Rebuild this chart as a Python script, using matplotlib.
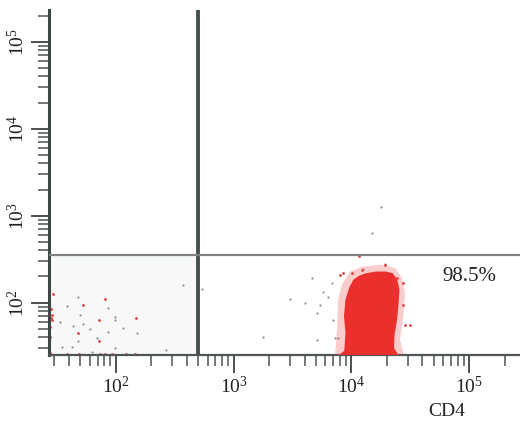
import numpy as np
import matplotlib
matplotlib.use('Agg')
import matplotlib.pyplot as plt
from matplotlib.ticker import LogLocator, LogFormatterMathtext, NullFormatter

plt.rcParams['font.family'] = ['Liberation Serif', 'DejaVu Serif']
plt.rcParams['mathtext.fontset'] = 'custom'
plt.rcParams['mathtext.rm'] = 'Liberation Serif'

# axis ranges and gates (fluorescence units)
x_range = [27, 270000]
y_range = [25, 233000]
gate_x = 500
gate_y = 350
quadrant_label = '98.5%'

# outline of the dense CD4+ population (solid core)
cluster_x = [7600, 8700, 8900, 8650, 8900, 9600, 10400, 11600, 13300, 16200,
             19600, 22400, 24400, 25600, 25100, 24400, 23200, 23000, 25500]
cluster_y = [24, 28, 45, 70, 108, 150, 184, 204, 218, 228,
             228, 218, 186, 141, 95, 64, 42, 30, 24]

# outline of the sparser halo round the core
halo_x = [7260, 7550, 7700, 8320, 9730, 12300, 17500, 23400, 26900, 28500,
          27400, 25900, 28000]
halo_y = [24, 49, 108, 161, 227, 259, 273, 252, 194, 124,
          63.8, 37.6, 24]

# single red events
red_x = [29.1, 80.7, 52.5, 28.6, 28.6, 71.7, 148, 47.6, 71.7, 27.5, 38.3, 48.5,
         73.2, 80.7, 92.5, 122, 145, 27.5, 27.5, 28, 28,
         8000, 8490, 10100, 12300, 19300, 24400, 27400, 28500, 31450, 27400, 11600]
red_y = [127, 111, 95, 72.8, 63.8, 63.8, 67.3, 45.2, 36.6, 26.6, 26, 26,
         26, 26, 26, 26, 26, 53, 40.6, 85, 67,
         210, 221, 221, 240, 273, 194, 170, 55.9, 55.9, 95, 347]

# single gray events
gray_x = [371, 538, 47.6, 38.3, 85.5, 49.5, 33.4, 98.1, 98.1, 43.1, 52.5, 115,
          60.1, 85.5, 151, 69, 47.6, 34.7, 42.3, 98.1, 266, 62.5,
          17840, 14970, 19300, 12550, 1770, 3010, 4030, 4630, 5100, 5410, 5740,
          6330, 6840, 6980, 7260, 5100, 7700]
gray_y = [158, 145, 117, 92.4, 87.7, 72.8, 60.5, 69.1, 63.8, 54.5, 57.4, 51.6,
          50.3, 46.4, 45.2, 39.6, 36.6, 31.2, 31.2, 30.4, 28.8, 27.4,
          1268, 638, 281, 246, 40.6, 111, 100, 194, 76.8, 95, 134,
          117, 170, 63.8, 39.6, 37.6, 39.6]

fig = plt.figure(figsize=(5.2, 4.26), dpi=100)
ax = fig.add_axes([0.094, 0.1667, 0.906, 0.81])
ax.set_xscale('log')
ax.set_yscale('log')
ax.set_xlim(x_range)
ax.set_ylim(y_range)

# shaded lower-left quadrant
ax.fill([x_range[0], gate_x, gate_x, x_range[0]],
        [y_range[0], y_range[0], gate_y, gate_y], color='#f7f9f9', zorder=0)

ax.scatter(gray_x, gray_y, s=2.5, color='#8c8c8c', linewidths=0, zorder=2)
ax.scatter(red_x, red_y, s=4, color='#e23a36', linewidths=0, zorder=2)
ax.fill(halo_x, halo_y, color='#ee5a57', alpha=0.3, lw=0, zorder=3)
ax.fill(cluster_x, cluster_y, color='#ea2f2d', lw=0, zorder=3)

ax.axvline(gate_x, color='#485050', lw=2.8, zorder=4)
ax.axhline(gate_y, color='#7d8383', lw=1.6, zorder=4)

ax.text(1e5, 200, quadrant_label, ha='center', va='center', fontsize=15, color='#222222')
fig.text(447 / 520, 1 - 412 / 426, 'CD4', ha='center', va='center', fontsize=14, color='#222222')

for sp in ['top', 'right']:
    ax.spines[sp].set_visible(False)
ax.spines['left'].set_linewidth(2.2)
ax.spines['left'].set_color('#3f4646')
ax.spines['bottom'].set_linewidth(1.6)
ax.spines['bottom'].set_color('#4f5555')

ax.xaxis.set_major_locator(LogLocator(base=10, numticks=10))
ax.yaxis.set_major_locator(LogLocator(base=10, numticks=10))
ax.xaxis.set_minor_locator(LogLocator(base=10, subs=np.arange(2, 10), numticks=20))
ax.yaxis.set_minor_locator(LogLocator(base=10, subs=np.arange(2, 10), numticks=20))
ax.xaxis.set_major_formatter(LogFormatterMathtext())
ax.yaxis.set_major_formatter(LogFormatterMathtext())
ax.xaxis.set_minor_formatter(NullFormatter())
ax.yaxis.set_minor_formatter(NullFormatter())

ax.tick_params(which='major', direction='out', length=13, width=1.4, color='#4a5050',
               labelsize=14, labelcolor='#222222', pad=2)
ax.tick_params(which='minor', direction='out', length=8, width=1.2, color='#5a6060')
for lab in ax.get_yticklabels():
    lab.set_rotation(90)
    lab.set_va('center')

fig.savefig('out.png', dpi=100)
